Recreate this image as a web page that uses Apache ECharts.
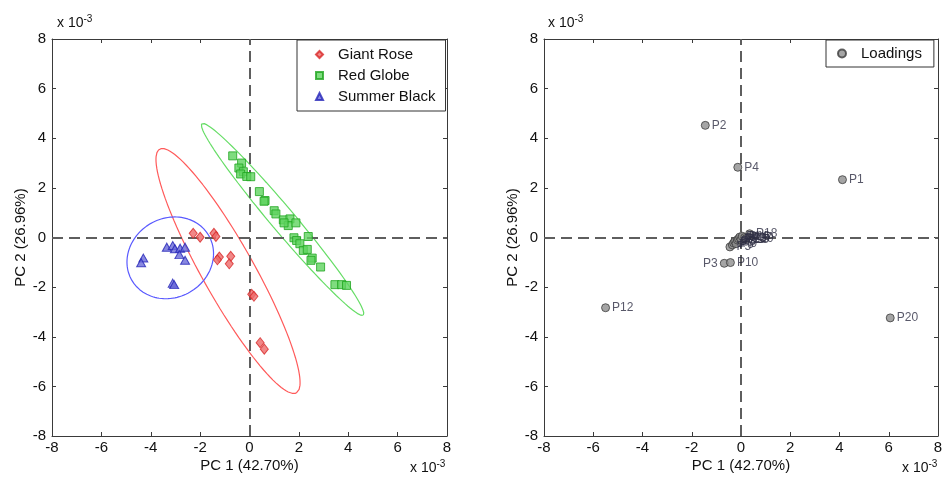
<!DOCTYPE html>
<html><head><meta charset="utf-8">
<script src="https://cdn.jsdelivr.net/npm/echarts@6/dist/echarts.min.js"></script>
<style>html,body{margin:0;padding:0;background:#fff}#c{width:947px;height:477px}</style>
</head><body><div id="c"></div>
<script>
// ---- Scores (x 10^-3) ----
const giantRose = [[-2.28,0.17],[-2.00,0.01],[-1.44,0.17],[-1.36,0.04],[-1.22,-0.79],[-1.30,-0.90],[-0.76,-0.76],[-0.82,-1.06],[0.09,-2.29],[0.18,-2.37],[0.43,-4.24],[0.60,-4.50]];
const redGlobe = [[-0.68,3.29],[-0.32,3.00],[-0.43,2.80],[-0.25,2.65],[-0.36,2.56],[-0.11,2.46],[0.05,2.45],[0.40,1.85],[0.63,1.49],[0.59,1.46],[1.00,1.08],[1.07,0.95],[1.37,0.71],[1.64,0.75],[1.57,0.48],[1.88,0.59],[1.40,0.59],[1.80,-0.01],[1.91,-0.12],[2.04,-0.25],[2.18,-0.52],[2.34,-0.48],[2.38,0.04],[2.54,-0.83],[2.49,-0.92],[2.88,-1.19],[3.46,-1.90],[3.73,-1.90],[3.93,-1.93]];
const summerBlack = [[-4.30,-0.83],[-4.39,-1.02],[-3.35,-0.39],[-3.11,-0.32],[-3.02,-0.45],[-2.81,-0.43],[-2.61,-0.39],[-2.84,-0.69],[-2.61,-0.92],[-3.11,-1.84],[-3.05,-1.90]];
// ---- Confidence ellipses: centre, major semi-axis vector, minor semi-axis vector ----
const roseCenter = [-0.87,-1.35], roseMajor = [2.77,-4.91], roseMinor = [0.92,0.51];
const globeCenter = [1.34,0.73], globeMajor = [3.27,-3.86], globeMinor = [0.37,0.31];
const blackCenter = [-3.21,-0.82], blackMajor = [1.56,0.90], blackMinor = [0.80,-1.38];
// ---- Loadings (x 10^-3) ----
const loadingNames = ['P1','P2','P3','P4','P5','P6','P7','P8','P9','P10','P11','P12','P13','P14','P15','P16','P17','P18','P19','P20'];
const loadingX = [4.12,-1.45,-0.68,-0.13,-0.45,-0.35,-0.30,-0.25,-0.20,-0.43,-0.15,-5.50,-0.10,-0.05,0.00,0.05,0.15,0.35,0.20,6.06];
const loadingY = [2.33,4.52,-1.04,2.83,-0.38,-0.30,-0.22,-0.15,-0.25,-1.01,-0.10,-2.83,-0.05,0.02,-0.08,0.05,0.00,0.15,-0.05,-3.24];
const leftLabelled = ['P3'];

function ellipse(c, A, B) {
  const pts = [];
  for (let i = 0; i <= 120; i++) {
    const t = i / 120 * 2 * Math.PI;
    pts.push([c[0] + Math.cos(t) * A[0] + Math.sin(t) * B[0], c[1] + Math.cos(t) * A[1] + Math.sin(t) * B[1]]);
  }
  return pts;
}

const FONT = '"Liberation Sans", Arial, sans-serif';
const axisCol = '#3a3a3a';
function xAx(grid, pos, main) {
  return {
    gridIndex: grid, type: 'value', position: pos, min: -8, max: 8, interval: 2,
    axisLine: {show: true, onZero: false, lineStyle: {color: axisCol, width: 1}},
    axisTick: {show: true, inside: true, length: 4, lineStyle: {color: axisCol}},
    axisLabel: {show: main, color: '#111', fontSize: 15, fontFamily: FONT, margin: 4},
    splitLine: {show: false},
    name: main ? 'PC 1 (42.70%)' : '', nameLocation: 'middle', nameGap: 22, nameMoveOverlap: false,
    nameTextStyle: {color: '#111', fontSize: 15, fontFamily: FONT}
  };
}
function yAx(grid, pos, main) {
  return {
    gridIndex: grid, type: 'value', position: pos, min: -8, max: 8, interval: 2,
    axisLine: {show: true, onZero: false, lineStyle: {color: axisCol, width: 1}},
    axisTick: {show: true, inside: true, length: 4, lineStyle: {color: axisCol}},
    axisLabel: {show: main, color: '#111', fontSize: 15, fontFamily: FONT, margin: 6},
    splitLine: {show: false},
    name: main ? 'PC 2 (26.96%)' : '', nameLocation: 'middle', nameGap: 24, nameMoveOverlap: false,
    nameTextStyle: {color: '#111', fontSize: 15, fontFamily: FONT}
  };
}
const crossLines = {
  silent: true, symbol: 'none', label: {show: false},
  lineStyle: {color: '#5e5e5e', width: 2, type: [11, 6]},
  data: [{xAxis: 0}, {yAxis: 0}]
};
function sci(x, y) {
  return {
    text: 'x 10{s|-3}', left: x, top: y, padding: 0,
    textStyle: {fontSize: 14, fontWeight: 'normal', color: '#111', fontFamily: FONT,
      rich: {s: {fontSize: 10, verticalAlign: 'top', color: '#111', fontFamily: FONT, padding: [0,0,8,0]}}}
  };
}

const chart = echarts.init(document.getElementById('c'), null, {renderer: 'canvas'});
chart.setOption({
  animation: false,
  backgroundColor: '#fff',
  title: [sci(57, 14), sci(410, 459), sci(548, 14), sci(902, 459)],
  grid: [
    {left: 52, top: 39, width: 395, height: 397, containLabel: false, outerBoundsMode: 'none'},
    {left: 544, top: 39, width: 394, height: 397, containLabel: false, outerBoundsMode: 'none'}
  ],
  xAxis: [xAx(0, 'bottom', true), xAx(0, 'top', false), xAx(1, 'bottom', true), xAx(1, 'top', false)],
  yAxis: [yAx(0, 'left', true), yAx(0, 'right', false), yAx(1, 'left', true), yAx(1, 'right', false)],
  legend: [
    {
      left: 297, top: 40, orient: 'vertical', itemWidth: 7, itemHeight: 7, itemGap: 6,
      padding: [7, 10, 7, 18], borderColor: '#333', borderWidth: 1, backgroundColor: '#fff',
      textStyle: {fontSize: 15, fontFamily: FONT, color: '#111', padding: [0, 0, 0, 10]},
      data: ['Giant Rose', 'Red Globe', 'Summer Black']
    },
    {
      left: 826, top: 40, orient: 'vertical', itemWidth: 8, itemHeight: 8,
      padding: [6, 12, 6, 11], borderColor: '#333', borderWidth: 1, backgroundColor: '#fff',
      textStyle: {fontSize: 15, fontFamily: FONT, color: '#111', padding: [0, 0, 0, 10]},
      data: ['Loadings']
    }
  ],
  series: [
    {type: 'line', xAxisIndex: 0, yAxisIndex: 0, data: ellipse(roseCenter, roseMajor, roseMinor), showSymbol: false, silent: true,
      lineStyle: {color: '#ff5a5a', width: 1.2}, z: 2, markLine: crossLines},
    {type: 'line', xAxisIndex: 0, yAxisIndex: 0, data: ellipse(globeCenter, globeMajor, globeMinor), showSymbol: false, silent: true,
      lineStyle: {color: '#66dd66', width: 1.2}, z: 2},
    {type: 'line', xAxisIndex: 0, yAxisIndex: 0, data: ellipse(blackCenter, blackMajor, blackMinor), showSymbol: false, silent: true,
      lineStyle: {color: '#5a5aff', width: 1.2}, z: 2},
    {name: 'Giant Rose', type: 'scatter', xAxisIndex: 0, yAxisIndex: 0, data: giantRose, symbol: 'diamond', symbolSize: [8, 10],
      itemStyle: {color: '#ee6a6a', borderColor: '#d82828', borderWidth: 1}, z: 5},
    {name: 'Red Globe', type: 'scatter', xAxisIndex: 0, yAxisIndex: 0, data: redGlobe, symbol: 'rect', symbolSize: 8,
      itemStyle: {color: '#5fd35f', borderColor: '#1fa51f', borderWidth: 1}, z: 5},
    {name: 'Summer Black', type: 'scatter', xAxisIndex: 0, yAxisIndex: 0, data: summerBlack, symbol: 'triangle', symbolSize: [9, 8],
      itemStyle: {color: '#6a6ad8', borderColor: '#2424b8', borderWidth: 1}, z: 5},
    {name: 'Loadings', type: 'scatter', xAxisIndex: 2, yAxisIndex: 2,
      data: loadingNames.map((n, i) => ({name: n, value: [loadingX[i], loadingY[i]],
        label: leftLabelled.includes(n) ? {position: 'left'} : undefined})),
      symbol: 'circle', symbolSize: 8,
      itemStyle: {color: '#8e8e8e', borderColor: '#3c3c3c', borderWidth: 1}, z: 5,
      label: {show: true, position: 'right', distance: 2, formatter: p => p.name, fontSize: 12, fontFamily: FONT, color: '#2e2e44'},
      markLine: crossLines}
  ]
});
</script></body></html>
